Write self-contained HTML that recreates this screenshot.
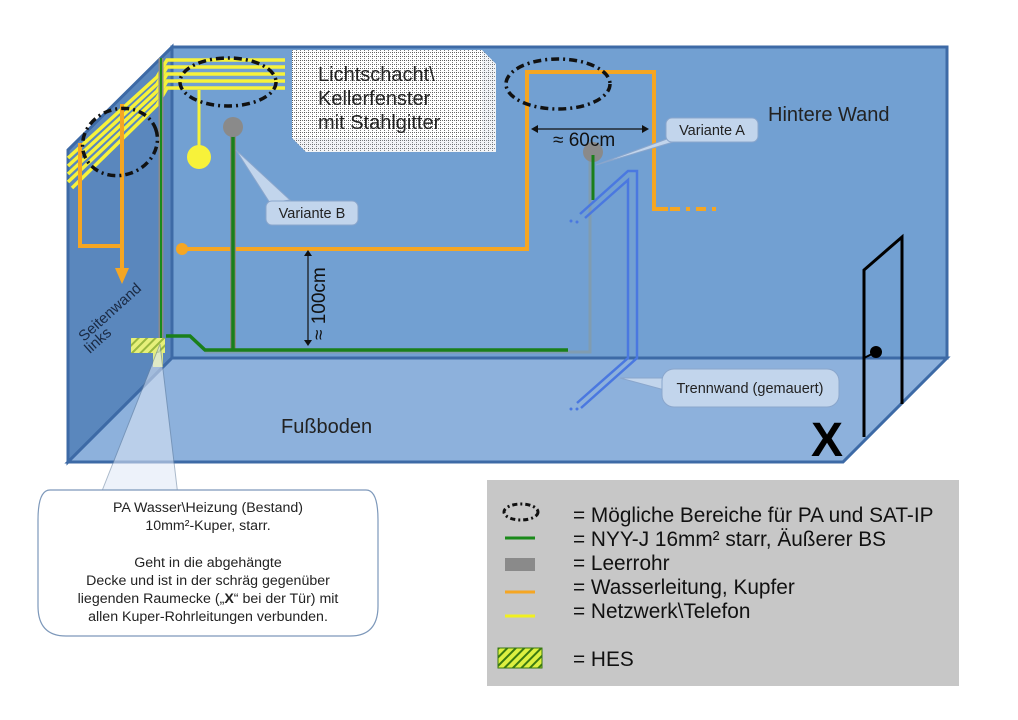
<!DOCTYPE html>
<html><head><meta charset="utf-8"><style>
html,body{margin:0;padding:0;background:#fff;}
svg{display:block;font-family:"Liberation Sans",sans-serif;}
</style></head><body>
<svg width="1018" height="720" viewBox="0 0 1018 720" xmlns="http://www.w3.org/2000/svg">
<defs>
<pattern id="grid" width="4" height="4" patternUnits="userSpaceOnUse">
<rect width="4" height="4" fill="#fff"/>
<path d="M0 0.5H4M0.5 0V4" stroke="#444" stroke-width="0.7" stroke-dasharray="1,1"/>
</pattern>
<pattern id="hatch" width="6" height="6" patternUnits="userSpaceOnUse" patternTransform="rotate(45)">
<rect width="6" height="6" fill="#ddf040"/>
<rect width="2" height="6" fill="#3a7a10"/>
</pattern>
<pattern id="hatch2" width="6" height="6" patternUnits="userSpaceOnUse" patternTransform="rotate(45)">
<rect width="6" height="6" fill="#e6f07a"/>
<rect width="2" height="6" fill="#9ab840"/>
</pattern>
</defs>

<polygon points="68,150 172,47 172,358 68,462" fill="#5a87bd" stroke="#3d6aa6" stroke-width="3"/>
<polygon points="172,358 947,358 843,462 68,462" fill="#8db1dc" stroke="#3d6aa6" stroke-width="3"/>
<rect x="172" y="47" width="775" height="311" fill="#72a0d2" stroke="#3d6aa6" stroke-width="3"/>

<polygon points="292,50 482,50 496,64 496,152 306,152 292,138" fill="#bcc7d6"/>
<rect x="292" y="50" width="190" height="88" fill="url(#grid)"/>
<polygon points="482,50 496,64 496,152 482,138" fill="url(#grid)" opacity="0.8"/>
<polygon points="292,138 482,138 496,152 306,152" fill="url(#grid)" opacity="0.8"/>
<text x="318" y="81" font-size="20" fill="#222">Lichtschacht\</text>
<text x="318" y="105" font-size="20" fill="#222">Kellerfenster</text>
<text x="318" y="129" font-size="20" fill="#222">mit Stahlgitter</text>

<g fill="none" stroke="#f7f23a" stroke-width="3.5">
<polyline points="68,158 157,77 167,60 285,60"/>
<polyline points="68,166 157,84 167,67 285,67"/>
<polyline points="68,174 157,91 167,74 285,74"/>
<polyline points="68,182 157,98 167,81 285,81"/>
<polyline points="72,188 157,105 167,88 285,88"/>
</g>
<line x1="199" y1="90" x2="199" y2="156" stroke="#f7f23a" stroke-width="3"/>
<circle cx="199" cy="157" r="12" fill="#f7f23a"/>

<g fill="none" stroke="#f5a623" stroke-width="4">
<polyline points="80,143 80,246 122,246"/>
<line x1="122" y1="104" x2="122" y2="270"/>
</g>
<polygon points="115,268 129,268 122,284" fill="#f5a623"/>

<g fill="none" stroke="#f5a623" stroke-width="4">
<polyline points="182,249 527,249 527,72 654,72 654,209 668,209"/>
<line x1="670" y1="209" x2="722" y2="209" stroke-dasharray="10,6,4,6"/>
</g>
<circle cx="182" cy="249" r="6" fill="#f5a623"/>

<line x1="161" y1="58" x2="161" y2="342" stroke="#8a8a8a" stroke-width="5"/>
<line x1="161" y1="58" x2="161" y2="342" stroke="#1a8a1a" stroke-width="2"/>
<line x1="233" y1="127" x2="233" y2="350" stroke="#8a8a8a" stroke-width="6"/>
<line x1="233" y1="132" x2="233" y2="350" stroke="#1a7f1a" stroke-width="3.5"/>
<polyline points="205,352 590,352 590,160" fill="none" stroke="#8a9a9a" stroke-width="3" opacity="0.6"/>
<polyline points="166,336 190,336 205,350 568,350" fill="none" stroke="#1a7f1a" stroke-width="3.5"/>
<circle cx="233" cy="127" r="10" fill="#8a8a8a"/>
<circle cx="593" cy="152" r="10" fill="#8a8a8a"/>
<line x1="593" y1="155" x2="593" y2="200" stroke="#1a7f1a" stroke-width="3"/>

<g fill="none" stroke="#111" stroke-width="3.5" stroke-dasharray="8,4,2,4">
<ellipse cx="228" cy="82" rx="48" ry="24"/>
<ellipse cx="120" cy="142" rx="38" ry="33" transform="rotate(-20 120 142)"/>
<ellipse cx="558" cy="84" rx="52" ry="25"/>
</g>

<line x1="308" y1="254" x2="308" y2="342" stroke="#111" stroke-width="1.2"/>
<polygon points="304,256 312,256 308,250" fill="#111"/>
<polygon points="304,340 312,340 308,346" fill="#111"/>
<text transform="translate(325,340) rotate(-90)" font-size="19" fill="#111">≈ 100cm</text>
<line x1="536" y1="129" x2="644" y2="129" stroke="#111" stroke-width="1.2"/>
<polygon points="538,125 538,133 531,129" fill="#111"/>
<polygon points="642,125 642,133 649,129" fill="#111"/>
<text x="553" y="146" font-size="19" fill="#111">≈ 60cm</text>

<g fill="none" stroke="#4a78e0" stroke-width="2.5">
<polyline points="580,214 628,171 637,171 637,358 581,408"/>
<polyline points="585,218 628,180 628,358 577,403"/>
</g>
<g fill="#4a78e0"><circle cx="571" cy="221" r="1.5"/><circle cx="577" cy="222" r="1.5"/><circle cx="571" cy="409" r="1.5"/><circle cx="577" cy="409" r="1.5"/></g>

<polyline points="864,437 864,270 902,237 902,404" fill="none" stroke="#000" stroke-width="3"/>
<circle cx="876" cy="352" r="6" fill="#000"/>
<line x1="864" y1="358" x2="876" y2="352" stroke="#000" stroke-width="2"/>
<text x="811" y="456" font-size="48" font-weight="bold" fill="#000">X</text>

<text x="768" y="121" font-size="20" fill="#222">Hintere Wand</text>
<text x="281" y="433" font-size="20" fill="#222">Fußboden</text>
<text transform="translate(84,342) rotate(-42)" font-size="15" fill="#1a2a44">Seitenwand</text>
<text transform="translate(90,354) rotate(-42)" font-size="15" fill="#1a2a44">links</text>

<rect x="131" y="338" width="34" height="15" fill="url(#hatch2)"/>
<rect x="153" y="353" width="10" height="14" fill="#dfe98a"/>

<polygon points="236,150 290,200 270,203" fill="#c2d5ec" stroke="#8aa6cc" stroke-width="1"/>
<rect x="266" y="201" width="92" height="24" rx="6" fill="#c2d5ec" stroke="#8aa6cc"/>
<text x="312" y="218" font-size="14.5" text-anchor="middle" fill="#222">Variante B</text>

<polygon points="596,165 675,136 690,137" fill="#c2d5ec" stroke="#8aa6cc" stroke-width="1"/>
<rect x="666" y="118" width="92" height="24" rx="6" fill="#c2d5ec" stroke="#8aa6cc"/>
<text x="712" y="135" font-size="14.5" text-anchor="middle" fill="#222">Variante A</text>

<polygon points="620,378 672,378 672,392" fill="#c2d5ec" stroke="#8aa6cc" stroke-width="1"/>
<rect x="662" y="369" width="177" height="38" rx="12" fill="#c2d5ec" stroke="#8aa6cc"/>
<text x="750" y="393" font-size="14.5" text-anchor="middle" fill="#222">Trennwand (gemauert)</text>

<polygon points="100,496 160,344 178,496" fill="#dfe9f6" opacity="0.55" stroke="#6680a0" stroke-width="1"/>
<path d="M50,490 H366 Q378,490 378,520 V606 Q378,636 350,636 H66 Q38,636 38,606 V520 Q38,490 50,490 Z" fill="#fff" stroke="#7d98ba" stroke-width="1.2"/>
<g font-size="14.2" fill="#222" text-anchor="middle">
<text x="208" y="512">PA Wasser\Heizung (Bestand)</text>
<text x="208" y="530">10mm²-Kuper, starr.</text>
<text x="208" y="567">Geht in die abgehängte</text>
<text x="208" y="585">Decke und ist in der schräg gegenüber</text>
<text x="208" y="603">liegenden Raumecke („<tspan font-weight="bold">X</tspan>“ bei der Tür) mit</text>
<text x="208" y="621">allen Kuper-Rohrleitungen verbunden.</text>
</g>

<rect x="487" y="480" width="472" height="206" fill="#c7c7c7"/>
<ellipse cx="521" cy="512" rx="17" ry="8" fill="none" stroke="#111" stroke-width="3" stroke-dasharray="5,3,2,3"/>
<line x1="505" y1="538" x2="535" y2="538" stroke="#1a8a1a" stroke-width="3"/>
<rect x="505" y="558" width="30" height="13" fill="#8a8a8a"/>
<line x1="505" y1="592" x2="535" y2="592" stroke="#f5a623" stroke-width="3"/>
<line x1="505" y1="616" x2="535" y2="616" stroke="#f0f020" stroke-width="3"/>
<rect x="498" y="648" width="44" height="20" fill="url(#hatch)" stroke="#3a7a10"/>
<g font-size="20.8" fill="#111">
<text x="573" y="522">= Mögliche Bereiche für PA und SAT-IP</text>
<text x="573" y="546">= NYY-J 16mm² starr, Äußerer BS</text>
<text x="573" y="570">= Leerrohr</text>
<text x="573" y="594">= Wasserleitung, Kupfer</text>
<text x="573" y="618">= Netzwerk\Telefon</text>
<text x="573" y="666">= HES</text>
</g>
</svg>
</body></html>
